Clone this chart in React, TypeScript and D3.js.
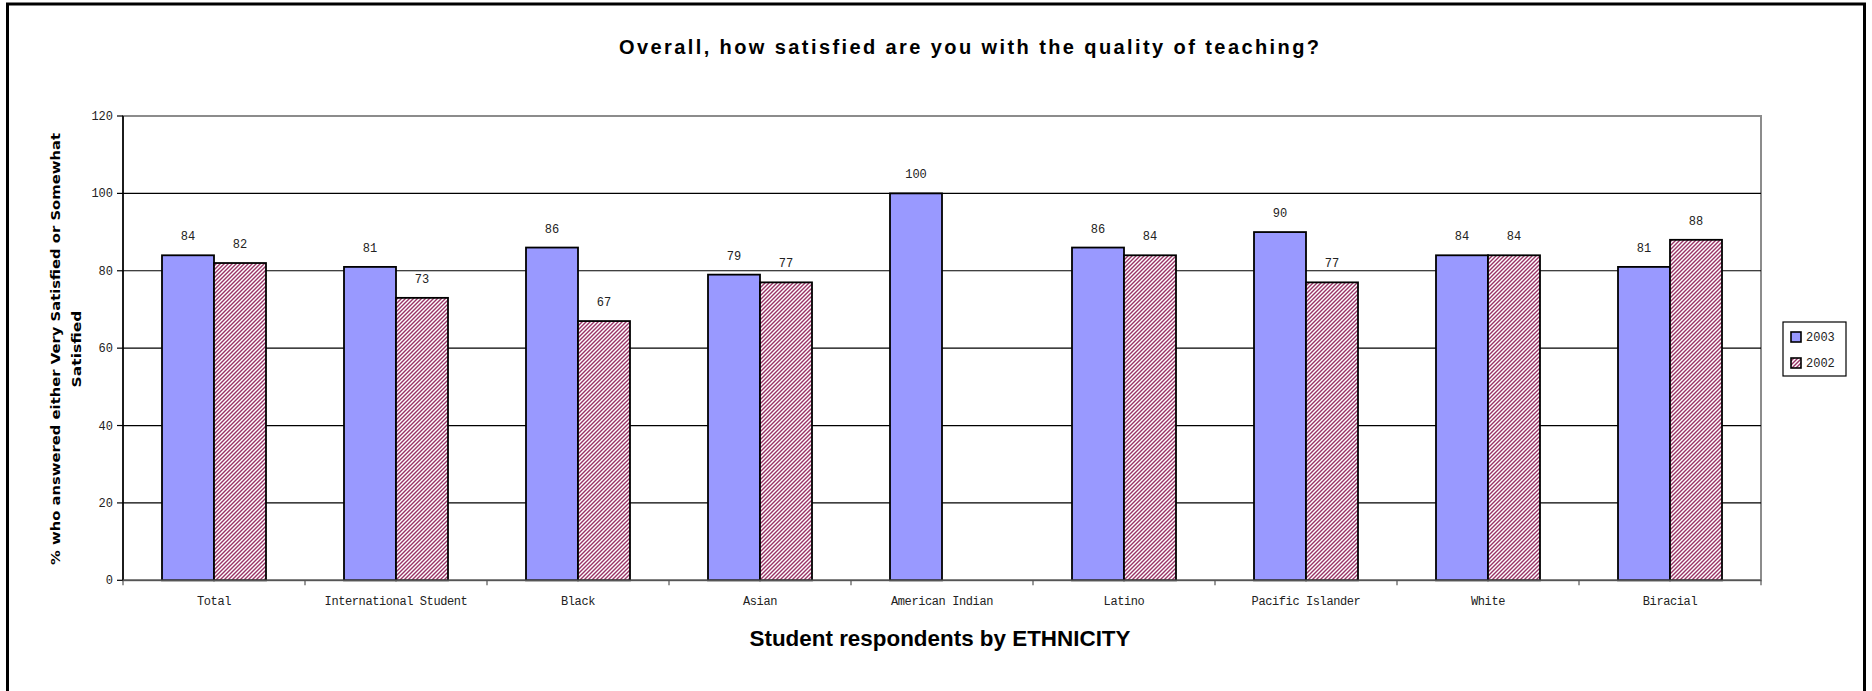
import React from "react";
import * as d3 from "d3";

// Survey results by ethnicity
const categories = [
  "Total",
  "International Student",
  "Black",
  "Asian",
  "American Indian",
  "Latino",
  "Pacific Islander",
  "White",
  "Biracial",
];
const series = ["2003", "2002"];
const values2003: (number | null)[] = [84, 81, 86, 79, 100, 86, 90, 84, 81];
const values2002: (number | null)[] = [82, 73, 67, 77, null, 84, 77, 84, 88];
const yTicks = [0, 20, 40, 60, 80, 100, 120];

const W = 1872;
const H = 691;
const plot = { left: 123, right: 1761, top: 116, bottom: 580.3 };

const monoFont = "'Liberation Mono', 'Courier New', monospace";
const sansFont = "'Liberation Sans', Arial, sans-serif";

export default function App() {
  const x = d3
    .scaleBand<string>()
    .domain(categories)
    .range([plot.left, plot.right])
    .padding(0);
  const xs = d3
    .scaleBand<string>()
    .domain(series)
    .range([0, x.bandwidth()])
    .paddingInner(0)
    .paddingOuter(0.75);
  const y = d3.scaleLinear().domain([0, 120]).range([plot.bottom, plot.top]);

  const seriesValues: Record<string, (number | null)[]> = {
    "2003": values2003,
    "2002": values2002,
  };
  const fills: Record<string, string> = {
    "2003": "#9999FF",
    "2002": "url(#hatch2002)",
  };

  const tickEdges = d3.range(categories.length + 1).map((i) => plot.left + i * x.step());

  return (
    <svg
      width={W}
      height={H}
      style={{ position: "absolute", left: 0, top: 0, display: "block", background: "#fff" }}
    >
      <defs>
        <pattern id="hatch2002" patternUnits="userSpaceOnUse" width={4} height={4}>
          <rect width={4} height={4} fill="#fff" />
          <path
            d="M-1,1 l2,-2 M0,4 l4,-4 M3,5 l2,-2"
            stroke="#993366"
            strokeWidth={1.4}
          />
        </pattern>
      </defs>

      {/* outer chart frame */}
      <rect x={7.5} y={4} width={1857} height={700} fill="#fff" stroke="#000" strokeWidth={3} />

      {/* title */}
      <text
        x={969}
        y={54}
        textAnchor="middle"
        fontFamily={sansFont}
        fontWeight="bold"
        fontSize={20}
        textLength={700}
        lengthAdjust="spacing"
        fill="#000"
      >
        Overall, how satisfied are you with the quality of teaching?
      </text>

      {/* plot area frame */}
      <rect
        x={plot.left}
        y={plot.top}
        width={plot.right - plot.left}
        height={plot.bottom - plot.top}
        fill="#fff"
        stroke="#8c8c8c"
        strokeWidth={2}
      />

      {/* gridlines */}
      {yTicks
        .filter((t) => t > 0 && t < 120)
        .map((t) => (
          <line
            key={`g${t}`}
            x1={plot.left}
            x2={plot.right}
            y1={y(t)}
            y2={y(t)}
            stroke="#000"
            strokeWidth={1.2}
          />
        ))}

      {/* bars */}
      {categories.map((c, i) =>
        series.map((s) => {
          const v = seriesValues[s][i];
          if (v == null) return null;
          const bx = (x(c) as number) + (xs(s) as number);
          return (
            <rect
              key={`${c}-${s}`}
              x={bx}
              y={y(v)}
              width={xs.bandwidth()}
              height={y(0) - y(v)}
              fill={fills[s]}
              stroke="#000"
              strokeWidth={1.8}
            />
          );
        })
      )}

      {/* value labels */}
      {categories.map((c, i) =>
        series.map((s) => {
          const v = seriesValues[s][i];
          if (v == null) return null;
          const cx = (x(c) as number) + (xs(s) as number) + xs.bandwidth() / 2;
          return (
            <text
              key={`l${c}-${s}`}
              x={cx}
              y={y(v) - 15}
              textAnchor="middle"
              fontFamily={monoFont}
              fontSize={12}
              fill="#222"
            >
              {v}
            </text>
          );
        })
      )}

      {/* y axis */}
      <line x1={plot.left} x2={plot.left} y1={plot.top} y2={plot.bottom} stroke="#000" strokeWidth={1.6} />
      {yTicks.map((t) => (
        <g key={`yt${t}`}>
          <line x1={plot.left - 6} x2={plot.left} y1={y(t)} y2={y(t)} stroke="#000" strokeWidth={1.2} />
          <text
            x={plot.left - 10}
            y={y(t) + 4}
            textAnchor="end"
            fontFamily={monoFont}
            fontSize={12}
            fill="#222"
          >
            {t}
          </text>
        </g>
      ))}

      {/* x axis */}
      <line x1={plot.left} x2={plot.right} y1={plot.bottom} y2={plot.bottom} stroke="#555" strokeWidth={1.6} />
      {tickEdges.map((tx, i) => (
        <line
          key={`xt${i}`}
          x1={tx}
          x2={tx}
          y1={plot.bottom}
          y2={plot.bottom + 5}
          stroke="#555"
          strokeWidth={1.2}
        />
      ))}
      {categories.map((c) => (
        <text
          key={`xl${c}`}
          x={(x(c) as number) + x.bandwidth() / 2}
          y={605}
          textAnchor="middle"
          fontFamily={monoFont}
          fontSize={12}
          letterSpacing={-0.4}
          fill="#222"
        >
          {c}
        </text>
      ))}

      {/* x axis title */}
      <text
        x={940}
        y={646}
        textAnchor="middle"
        fontFamily={sansFont}
        fontWeight="bold"
        fontSize={22}
        textLength={381}
        lengthAdjust="spacingAndGlyphs"
        fill="#000"
      >
        Student respondents by ETHNICITY
      </text>

      {/* y axis title */}
      <g transform="translate(60,349) rotate(-90)">
        <text
          x={0}
          y={0}
          textAnchor="middle"
          fontFamily="'DejaVu Sans', sans-serif"
          fontWeight="bold"
          fontSize={13}
          textLength={432}
          lengthAdjust="spacingAndGlyphs"
          fill="#000"
        >
          % who answered either Very Satisfied or Somewhat
        </text>
        <text
          x={0}
          y={21}
          textAnchor="middle"
          fontFamily="'DejaVu Sans', sans-serif"
          fontWeight="bold"
          fontSize={13}
          textLength={77}
          lengthAdjust="spacingAndGlyphs"
          fill="#000"
        >
          Satisfied
        </text>
      </g>

      {/* legend */}
      <g>
        <rect x={1783} y={322} width={63} height={54} fill="#fff" stroke="#000" strokeWidth={1.2} />
        {series.map((s, i) => (
          <g key={`lg${s}`}>
            <rect
              x={1791}
              y={332 + i * 26}
              width={10}
              height={10}
              fill={fills[s]}
              stroke="#000"
              strokeWidth={1.6}
            />
            <text
              x={1806}
              y={341 + i * 26}
              fontFamily={monoFont}
              fontSize={12}
              fill="#222"
            >
              {s}
            </text>
          </g>
        ))}
      </g>
    </svg>
  );
}
